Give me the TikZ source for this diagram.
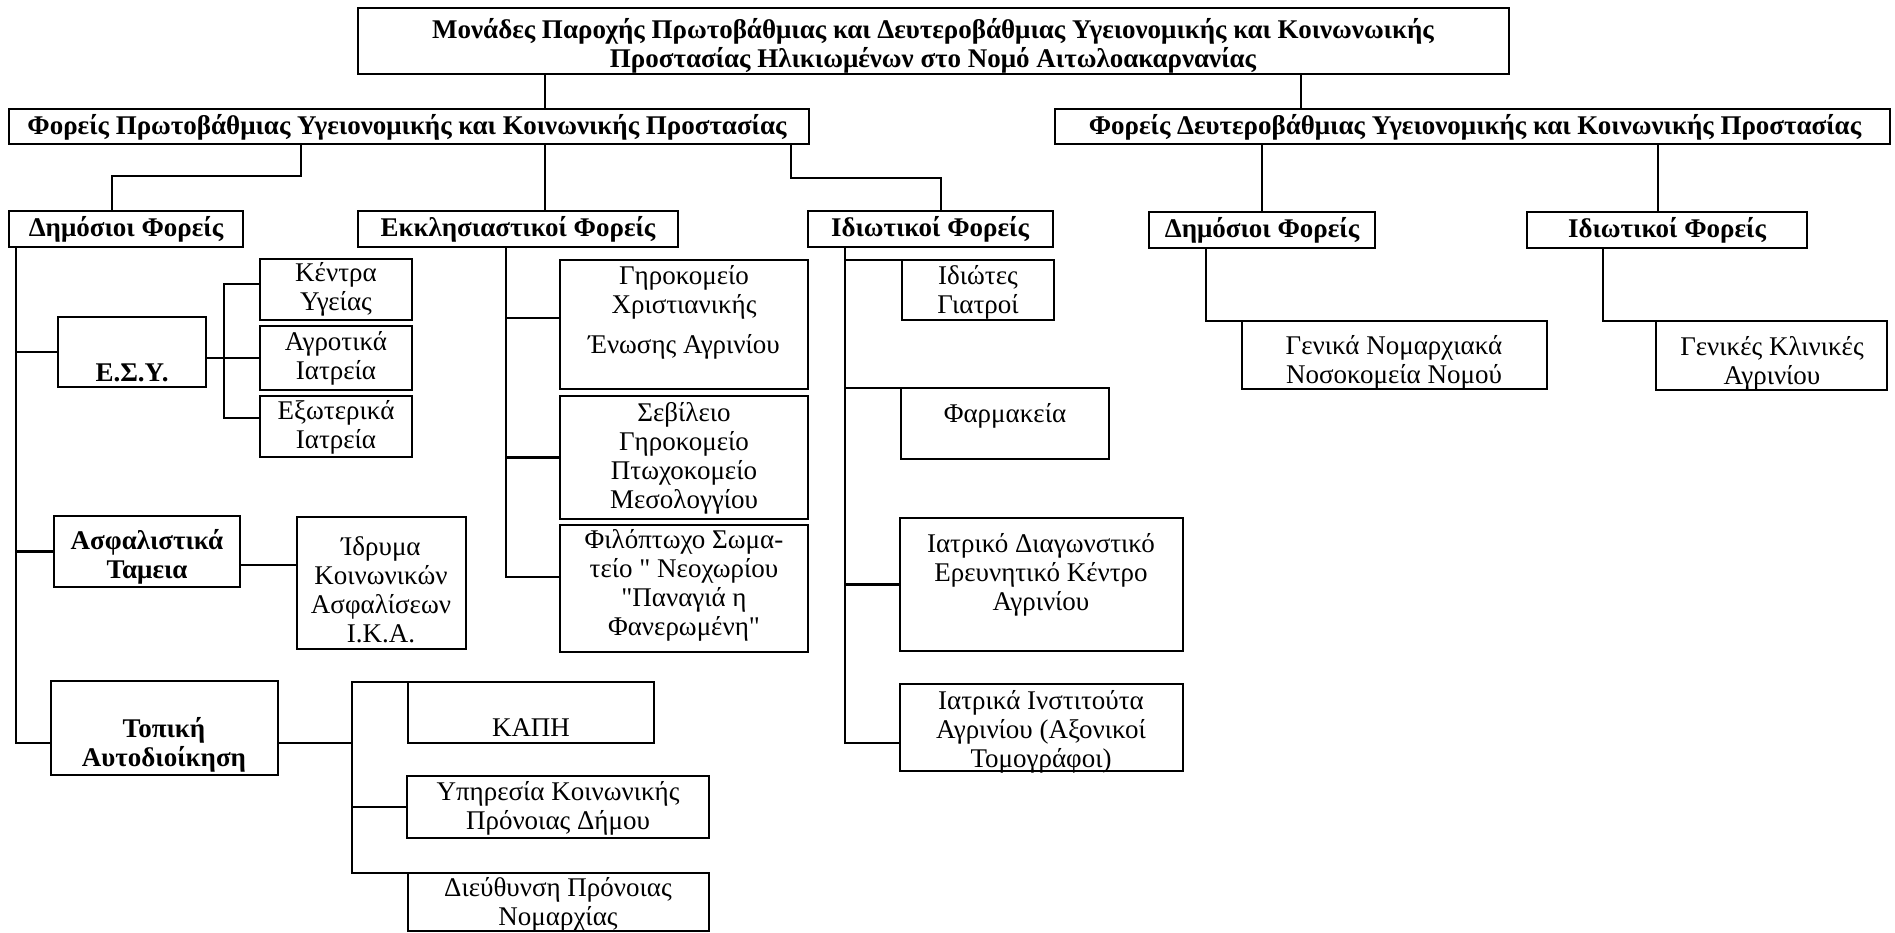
\documentclass[tikz,border=0pt]{standalone}
\usepackage{fontspec}
\setmainfont{Liberation Serif}[Ligatures=TeXOff]
\usetikzlibrary{calc}
\tikzset{
  box/.style={draw, line width=2.4pt, inner sep=0pt, outer sep=0pt},
  hd/.style={font=\fontsize{27}{29}\selectfont\bfseries, inner sep=0pt, align=center},
  tx/.style={font=\fontsize{27}{29}\selectfont, inner sep=0pt, align=center},
  ln/.style={line width=2.2pt, line join=miter}
}
\newcommand\bx[5]{\node[box, minimum width={#4pt-#2pt}, minimum height={#5pt-#3pt}] (#1) at ({(#2+#4)/2},{(#3+#5)/2}) {};}
\begin{document}
\begin{tikzpicture}[x=1pt,y=-1pt]
\fill[white] (0,0) rectangle (1895,933);
\useasboundingbox (0,0) rectangle (1895,933);
% boxes
\bx{top}{358}{8}{1509}{74}
\bx{prot}{9}{109}{809}{144}
\bx{deut}{1055}{109}{1890}{144}
\bx{dima}{9}{211}{243}{247}
\bx{ekk}{358}{211}{678}{247}
\bx{idia}{808}{211}{1053}{247}
\bx{dimb}{1149}{212}{1375}{248}
\bx{idib}{1527}{212}{1807}{248}
\bx{gena}{1242}{321}{1547}{389}
\bx{genb}{1656}{321}{1887}{390}
\bx{esy}{58}{317}{206}{387}
\bx{kent}{260}{259}{412}{320}
\bx{agro}{260}{326}{412}{390}
\bx{exo}{260}{396}{412}{457}
\bx{asf}{54}{516}{240}{587}
\bx{ika}{297}{517}{466}{649}
\bx{topi}{51}{681}{278}{775}
\bx{kapi}{408}{682}{654}{743}
\bx{ypir}{407}{776}{709}{838}
\bx{dieu}{408}{873}{709}{931}
\bx{gir}{560}{260}{808}{389}
\bx{seb}{560}{396}{808}{519}
\bx{fil}{560}{525}{808}{652}
\bx{idg}{902}{260}{1054}{320}
\bx{farm}{901}{388}{1109}{459}
\bx{iatr}{900}{518}{1183}{651}
\bx{inst}{900}{684}{1183}{771}
% texts
\node[hd] (topt) at (933,46) {Μονάδες Παροχής Πρωτοβάθμιας και Δευτεροβάθμιας Υγειονομικής και Κοινωνωικής\\Προστασίας Ηλικιωμένων στο Νομό Αιτωλοακαρνανίας};
\node[hd] (prott) at (407,127) {Φορείς Πρωτοβάθμιας Υγειονομικής και Κοινωνικής Προστασίας};
\node[hd] (deutt) at (1475,127) {Φορείς Δευτεροβάθμιας Υγειονομικής και Κοινωνικής Προστασίας};
\node[hd] (dimat) at (126,229) {Δημόσιοι Φορείς};
\node[hd] (ekkt) at (518,229) {Εκκλησιαστικοί Φορείς};
\node[hd] (idiat) at (930,229) {Ιδιωτικοί Φορείς};
\node[hd] (dimbt) at (1262,230) {Δημόσιοι Φορείς};
\node[hd] (idibt) at (1667,230) {Ιδιωτικοί Φορείς};
\node[tx] (genat) at (1394,362) {Γενικά Νομαρχιακά\\Νοσοκομεία Νομού};
\node[tx] (genbt) at (1772,363) {Γενικές Κλινικές\\Αγρινίου};
\node[hd] (esyt) at (132,373) {Ε.Σ.Υ.};
\node[tx] (kentt) at (336,289) {Κέντρα\\Υγείας};
\node[tx] (agrot) at (336,358) {Αγροτικά\\Ιατρεία};
\node[tx] (exot) at (336,427) {Εξωτερικά\\Ιατρεία};
\node[hd] (asft) at (147,557) {Ασφαλιστικά\\Ταμεια};
\node[tx] (ikat) at (381,590) {Ίδρυμα\\Κοινωνικών\\Ασφαλίσεων\\Ι.Κ.Α.};
\node[hd] (topit) at (164,745) {Τοπική\\Αυτοδιοίκηση};
\node[tx] (kapit) at (531,728) {ΚΑΠΗ};
\node[tx] (ypirt) at (558,808) {Υπηρεσία Κοινωνικής\\Πρόνοιας Δήμου};
\node[tx] (dieut) at (558,904) {Διεύθυνση Πρόνοιας\\Νομαρχίας};
\node[tx] (girt) at (684,312) {Γηροκομείο\\Χριστιανικής\\[11pt]Ένωσης Αγρινίου};
\node[tx] (sebt) at (684,458) {Σεβίλειο\\Γηροκομείο\\Πτωχοκομείο\\Μεσολογγίου};
\node[tx] (filt) at (684,585) {Φιλόπτωχο Σωμα-\\τείο " Νεοχωρίου\\"Παναγιά η\\Φανερωμένη"};
\node[tx] (idgt) at (978,292) {Ιδιώτες\\Γιατροί};
\node[tx] (farmt) at (1005,416) {Φαρμακεία};
\node[tx] (iatrt) at (1041,575) {Ιατρικό Διαγωνστικό\\Ερευνητικό Κέντρο\\Αγρινίου};
\node[tx] (instt) at (1041,732) {Ιατρικά Ινστιτούτα\\Αγρινίου (Αξονικοί\\Τομογράφοι)};
% junction coordinates
\coordinate (ca) at (545,0);
\coordinate (cb) at (1301,0);
\coordinate (j1) at (301,176);
\coordinate (j2) at (112,176);
\coordinate (j4) at (791,178);
\coordinate (j5) at (941,178);
\coordinate (j6) at (1262,0);
\coordinate (j7) at (1658,0);
\coordinate (j8) at (1206,0);
\coordinate (j9) at (1603,0);
\coordinate (s1) at (16,743);
\coordinate (b0) at (224,284);
\coordinate (b2) at (224,418);
\coordinate (a1) at (0,565);
\coordinate (k1) at (506,577);
\coordinate (k2) at (506,318);
\coordinate (p1) at (845,743);
\coordinate (t1) at (352,0);
% connectors
\draw[ln] (top.south -| ca) -- (prot.north -| ca);
\draw[ln] (top.south -| cb) -- (deut.north -| cb);
\draw[ln] (prot.south -| j1) -- (j1) -- (j2) -- (dima.north -| j2);
\draw[ln] (prot.south -| ca) -- (ekk.north -| ca);
\draw[ln] (prot.south -| j4) -- (j4) -- (j5) -- (idia.north -| j5);
\draw[ln] (deut.south -| j6) -- (dimb.north -| j6);
\draw[ln] (deut.south -| j7) -- (idib.north -| j7);
\draw[ln] (dimb.south -| j8) |- (gena.north west);
\draw[ln] (idib.south -| j9) |- (genb.north west);
% Dimosioi spine
\draw[ln] (dima.south -| s1) -- (s1) -- (topi.west |- s1);
\draw[ln] (esy.west -| s1) -- (esy.west);
\draw[ln] (asf.west -| s1) -- (asf.west);
% ESY bracket
\draw[ln] (esy.east |- agro.west) -- (agro.west);
\draw[ln] (kent.west |- b0) -- (b0) -- (b2) -- (exo.west |- b2);
\draw[ln] (asf.east |- a1) -- (ika.west |- a1);
% Ekklisiastikoi spine
\draw[ln] (ekk.south -| k1) -- (k1) -- (fil.west |- k1);
\draw[ln] (k2) -- (gir.west |- k2);
\draw[ln] (seb.west -| k1) -- (seb.west);
% Idiotikoi spine
\draw[ln] (idia.south -| p1) -- (p1) -- (inst.west |- p1);
\draw[ln] (idg.north west -| p1) -- (idg.north west);
\draw[ln] (farm.north west -| p1) -- (farm.north west);
\draw[ln] (iatr.west -| p1) -- (iatr.west);
% Topiki bracket
\draw[ln] (topi.east |- s1) -- (s1 -| t1);
\draw[ln] (kapi.north west) -- (kapi.north west -| t1) -- (dieu.north west -| t1) -- (dieu.north west);
\draw[ln] (ypir.west -| t1) -- (ypir.west);
\end{tikzpicture}
\end{document}
